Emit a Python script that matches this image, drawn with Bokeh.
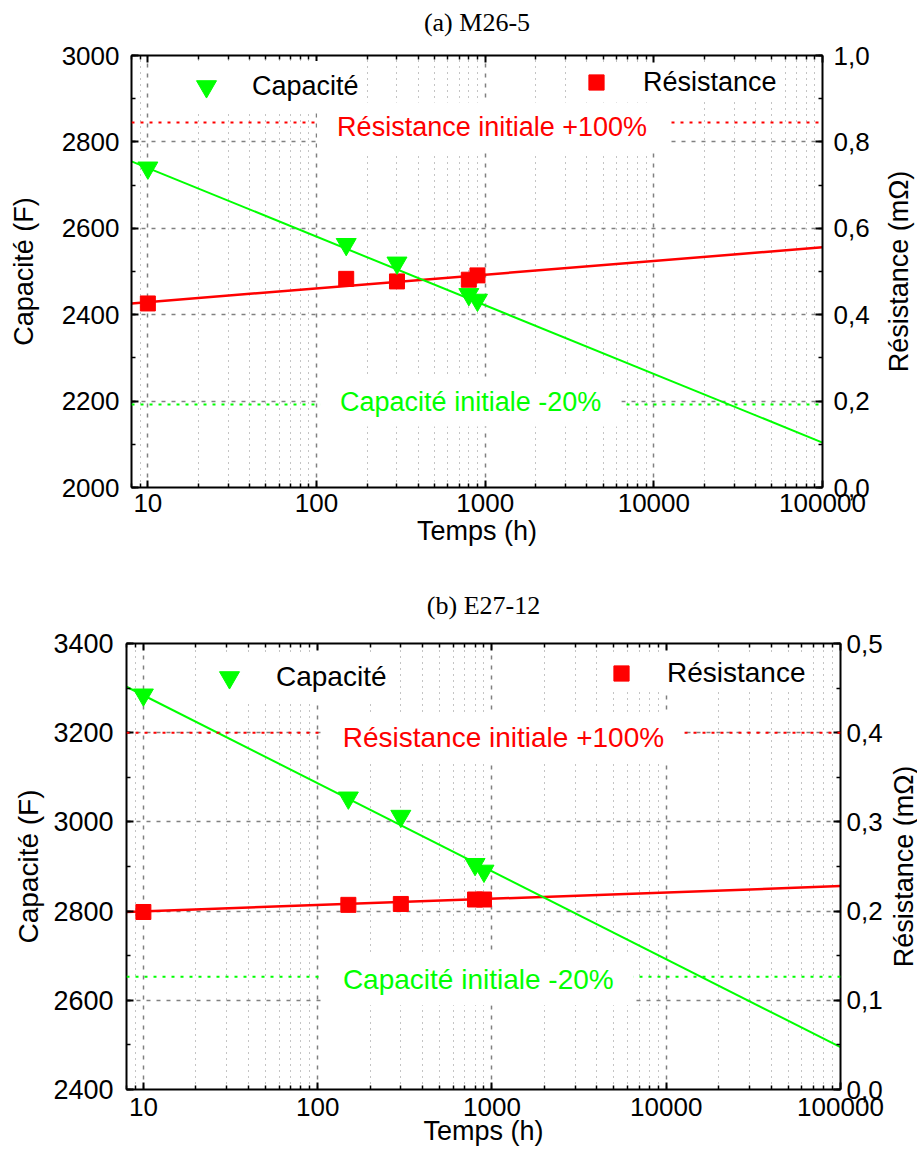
import math
from bokeh.plotting import figure
from bokeh.models import (Range1d, LinearAxis, LogAxis, FixedTicker, SingleIntervalTicker,
                          CustomJSTickFormatter, Span, Label, Legend, LegendItem)
from bokeh.layouts import column, row
from bokeh.embed import file_html
from bokeh.resources import INLINE

# ---------------- data ----------------
temps_h = [10, 150, 300, 800, 900]
capacite_a = [2740, 2563, 2520, 2447, 2434]
resistance_a = [0.426, 0.483, 0.477, 0.481, 0.491]
capacite_b = [3285, 3054, 3013, 2905, 2890]
resistance_b = [0.199, 0.207, 0.208, 0.213, 0.213]

fit_x = [8, 100000]
fit_capacite_a = [2755, 2104]
fit_resistance_a = [0.426, 0.556]
fit_capacite_b = [3303, 2495]
fit_resistance_b = [0.199, 0.228]

limite_capacite = [2192, 2653]      # capacité initiale -20 %
limite_resistance = [0.845, 0.40]   # résistance initiale +100 %

x_tick_values = [10, 100, 1000, 10000, 100000]
titles = ["(a) M26-5", "(b) E27-12"]

GREEN = "#00ff00"
RED = "#ff0000"
FONT = "Liberation Sans"
SERIF = "Liberation Serif"

x_minor = [8, 9] + [m * d for d in (10, 100, 1000, 10000) for m in range(2, 10)]


def style_axis(ax, ls, als=0, label=None, tick_fs="26px", label_fs="27px"):
    ax.axis_line_width = 2
    ax.axis_line_color = "black"
    ax.major_tick_in = 7
    ax.major_tick_out = 0
    ax.minor_tick_in = 4
    ax.minor_tick_out = 0
    ax.major_tick_line_width = 2
    ax.minor_tick_line_width = 1.5
    ax.major_label_text_font = FONT
    ax.major_label_text_font_size = tick_fs
    ax.major_label_text_color = "black"
    ax.major_label_standoff = ls
    if label is not None:
        ax.axis_label = label
        ax.axis_label_standoff = als
        ax.axis_label_text_font = FONT
        ax.axis_label_text_font_size = label_fs
        ax.axis_label_text_font_style = "normal"
        ax.axis_label_text_color = "black"


def make_panel(title, cap, res, fit_cap, fit_res, cap_lim, res_lim,
               yl, yr, ystep_l, ystep_r, g):
    p = figure(width=g["width"], height=g["height"], frame_width=g["fw"], frame_height=g["fh"],
               x_axis_type="log", x_range=Range1d(fit_x[0], fit_x[1]),
               y_range=Range1d(yl[0], yl[1]),
               output_backend="svg", toolbar_location=None,
               min_border_left=g["bl"], min_border_right=g["width"] - g["bl"] - g["fw"],
               min_border_top=g["bt"], min_border_bottom=g["height"] - g["bt"] - g["fh"])
    p.extra_y_ranges = {"res": Range1d(yr[0], yr[1])}
    p.background_fill_color = "white"
    p.border_fill_color = "white"
    p.outline_line_color = "black"
    p.outline_line_width = 1

    xt = FixedTicker(ticks=x_tick_values, minor_ticks=x_minor)
    xfmt = CustomJSTickFormatter(code="return tick.toFixed(0);")

    bx = p.xaxis[0]
    bx.ticker = xt
    bx.formatter = xfmt
    style_axis(bx, g["bx_ls"], g["bx_als"], "Temps (h)")

    ly = p.yaxis[0]
    ly.ticker = SingleIntervalTicker(interval=ystep_l, num_minor_ticks=2)
    style_axis(ly, g["ly_ls"], g["ly_als"], "Capacité (F)", g["ly_fs"], g["txt_fs"])

    ry = LinearAxis(y_range_name="res",
                    ticker=SingleIntervalTicker(interval=ystep_r, num_minor_ticks=2),
                    formatter=CustomJSTickFormatter(code="return tick.toFixed(1).replace('.', ',');"))
    style_axis(ry, g["ry_ls"])
    p.add_layout(ry, "right")

    # top axis: ticks only, its axis label carries the panel title
    tx = LogAxis(ticker=xt)
    style_axis(tx, 0)
    tx.major_label_text_font_size = "1px"
    tx.major_label_text_alpha = 0
    tx.axis_label = title
    tx.axis_label_standoff = g["tstand"]
    tx.axis_label_text_font = SERIF
    tx.axis_label_text_font_size = "26px"
    tx.axis_label_text_font_style = "normal"
    tx.axis_label_text_color = "black"
    p.add_layout(tx, "above")

    # grids
    p.xgrid.ticker = xt
    p.xgrid.grid_line_color = "#808080"
    p.xgrid.grid_line_dash = "4 6"
    p.xgrid.grid_line_width = 1.5
    p.xgrid.minor_grid_line_color = "#888888"
    p.xgrid.minor_grid_line_dash = "1 5"
    p.xgrid.minor_grid_line_width = 1
    p.ygrid.ticker = ly.ticker
    p.ygrid.grid_line_color = "#808080"
    p.ygrid.grid_line_dash = "4 6"
    p.ygrid.grid_line_width = 1.5

    # fit lines
    p.line(fit_x, fit_res, y_range_name="res", line_color=RED, line_width=2.5)
    p.line(fit_x, fit_cap, line_color=GREEN, line_width=2)
    # data
    r_res = p.scatter(temps_h, res, y_range_name="res", marker="square", size=15,
                      fill_color=RED, line_color=RED)
    r_cap = p.scatter(temps_h, cap, marker="inverted_triangle", size=20,
                      fill_color=GREEN, line_color=GREEN)

    # limit lines
    p.add_layout(Span(location=res_lim, dimension="width", y_range_name="res",
                      line_color=RED, line_dash="3 6", line_width=2))
    p.add_layout(Span(location=cap_lim, dimension="width",
                      line_color=GREEN, line_dash="3 6", line_width=2))

    p.add_layout(Label(x=g["red_x"], y=res_lim, y_range_name="res", y_offset=g["red_dy"],
                       text="Résistance initiale +100%", text_color=RED,
                       text_font=FONT, text_font_size=g["txt_fs"],
                       text_align="center", text_baseline="middle",
                       background_fill_color="white", background_fill_alpha=1.0,
                       padding=g["pad"]))
    p.add_layout(Label(x=g["green_x"], y=cap_lim, y_offset=g["green_dy"],
                       text="Capacité initiale -20%", text_color=GREEN,
                       text_font=FONT, text_font_size=g["txt_fs"],
                       text_align="center", text_baseline="middle",
                       background_fill_color="white", background_fill_alpha=1.0,
                       padding=g["pad"]))

    # legends
    def leg(item_label, rend, loc, gsize, stand):
        L = Legend(items=[LegendItem(label=item_label, renderers=[rend])],
                   location=loc, orientation="vertical",
                   glyph_width=gsize, glyph_height=gsize, label_standoff=stand,
                   padding=4, margin=0, spacing=0,
                   background_fill_color="white", background_fill_alpha=1.0,
                   border_line_color=None,
                   label_text_font=FONT, label_text_font_size=g["txt_fs"],
                   label_text_color="black")
        p.add_layout(L)

    leg("Capacité", r_cap, g["leg_cap"], 50, g["cap_stand"])
    leg("Résistance", r_res, g["leg_res"], 38, g["res_stand"])
    return p


def side_title(text, width, g):
    # narrow companion figure carrying the right-hand axis title (read bottom-to-top)
    height, top, fh = g["height"], g["bt"], g["fh"]
    q = figure(width=width, height=height, frame_width=1, frame_height=fh,
               x_range=Range1d(0, 1), y_range=Range1d(0, 1),
               min_border_left=g["sb"], min_border_right=width - g["sb"] - 1,
               min_border_top=top, min_border_bottom=height - top - fh,
               x_axis_location=None, toolbar_location=None, output_backend="svg")
    q.outline_line_color = None
    q.background_fill_color = "white"
    q.border_fill_color = "white"
    q.grid.visible = False
    ax = q.yaxis[0]
    ax.ticker = FixedTicker(ticks=[])
    ax.major_label_standoff = 0
    ax.major_tick_in = 0
    ax.major_tick_out = 0
    ax.minor_tick_in = 0
    ax.minor_tick_out = 0
    ax.axis_line_color = None
    ax.axis_label = text
    ax.axis_label_standoff = 0
    ax.axis_label_text_font = FONT
    ax.axis_label_text_font_size = "27px"
    ax.axis_label_text_font_style = "normal"
    ax.axis_label_text_color = "black"
    return q


geom_a = dict(width=880, height=568, fw=691, fh=432, bl=131, bt=55, sb=32,
              bx_ls=6, bx_als=1, ly_ls=12, ly_als=20, ry_ls=11, ly_fs="26px", txt_fs="27px",
              tstand=19, red_x=1099, red_dy=-5, green_x=820, green_dy=3, pad=(20, 10),
              leg_cap=(50, 376), leg_res=(446, 386), cap_stand=21, res_stand=28)
geom_b = dict(width=882, height=585, fw=714, fh=446, bl=126, bt=75, sb=31,
              bx_ls=8, bx_als=-3, ly_ls=13, ly_als=6, ry_ls=6, ly_fs="27px", txt_fs="28px",
              tstand=24, red_x=1164, red_dy=-5, green_x=835, green_dy=-3, pad=(20, 10),
              leg_cap=(78, 387), leg_res=(476, 397), cap_stand=22, res_stand=27)

pa = make_panel(titles[0], capacite_a, resistance_a, fit_capacite_a, fit_resistance_a,
                limite_capacite[0], limite_resistance[0], (2000, 3000), (0, 1.0), 200, 0.2, geom_a)
pb = make_panel(titles[1], capacite_b, resistance_b, fit_capacite_b, fit_resistance_b,
                limite_capacite[1], limite_resistance[1], (2400, 3400), (0, 0.5), 200, 0.1, geom_b)

sa = side_title("Résistance (mΩ)", 917 - geom_a["width"], geom_a)
sb = side_title("Résistance (mΩ)", 917 - geom_b["width"], geom_b)

lay = column(row(pa, sa, spacing=0), row(pb, sb, spacing=0), spacing=0)
open("out.html", "w").write(file_html(lay, INLINE))
